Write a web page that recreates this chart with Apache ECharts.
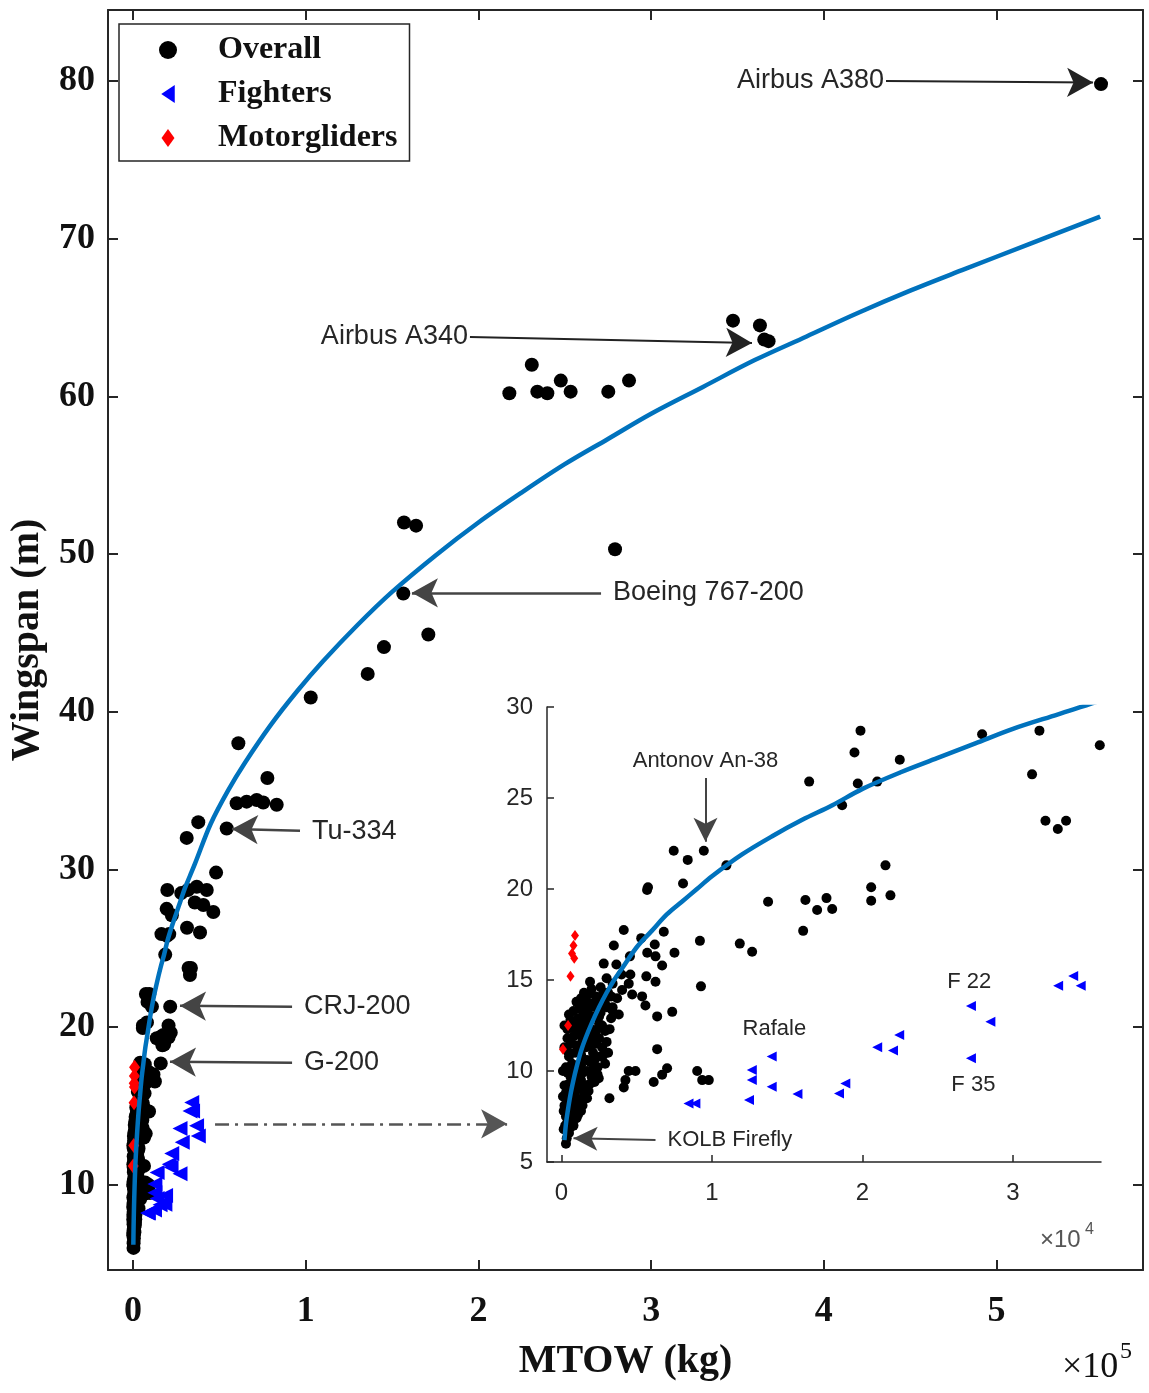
<!DOCTYPE html>
<html>
<head>
<meta charset="utf-8">
<title>Wingspan vs MTOW</title>
<script src="https://cdn.jsdelivr.net/npm/echarts@6/dist/echarts.min.js"></script>
<style>
  html, body { margin: 0; padding: 0; background: #fff; }
  #chart { width: 1149px; height: 1393px; }
</style>
</head>
<body>
<div id="chart"></div>
<script>
// values: [MTOW (kg), wingspan (m)]
const overall = [
  // large aircraft (only in the main plot)
  [560500, 79.8],
  [347400, 64.8], [363000, 64.5], [365500, 63.6], [368000, 63.5],
  [217900, 60.2], [230900, 62.0], [234100, 60.3], [239900, 60.2], [247700, 61.0],
  [253400, 60.3], [275200, 60.3], [287200, 61.0], [279100, 50.3],
  [156900, 52.0], [163900, 51.8], [156500, 47.5], [171000, 44.9], [145300, 44.1],
  [135900, 42.4], [102900, 40.9],
  [61000, 38.0], [77800, 35.8], [60000, 34.2], [65800, 34.3], [71600, 34.4],
  [75400, 34.25], [83200, 34.1],
  [37800, 33.0], [54250, 32.6], [31100, 32.0],
  [48100, 29.8], [42700, 28.7], [36900, 28.9], [40700, 27.75], [46500, 27.3], [38800, 26.0],
  // regional / commuter (also in the inset)
  [35770, 27.9], [31760, 28.7], [27950, 28.5], [22480, 27.1], [19870, 28.7], [19470, 27.5],
  [31270, 26.3], [32160, 23.75], [32980, 23.3], [33530, 23.75],
  [16460, 25.9], [19690, 25.8], [20980, 25.9], [18650, 24.6],
  [9460, 22.1], [7460, 22.1], [8390, 21.6], [10960, 21.3], [21530, 21.3], [8080, 20.3],
  [20580, 20.1], [5690, 19.95], [5750, 20.1],
  [13730, 19.3], [16210, 19.4], [17610, 19.5], [16990, 18.85], [17990, 18.9],
  [20580, 19.35], [21860, 19.65],
  [16060, 17.7], [9200, 17.15], [11850, 17.0], [12670, 16.55],
  [4140, 17.75], [5300, 17.3], [6800, 17.65], [3480, 16.9], [6200, 16.95], [5700, 16.5], [7510, 16.5],
  [2810, 15.9], [3650, 15.85], [4550, 16.3], [6250, 16.3], [6690, 15.8],
  [3000, 15.1], [3990, 15.3], [4580, 15.3], [5640, 15.2], [4470, 14.8], [6250, 14.9], [9270, 14.65],
  [1590, 13.6], [2260, 13.7], [2480, 14.0], [4030, 14.45], [4700, 14.2], [5360, 14.1],
  [5580, 13.6], [3370, 13.35], [3810, 13.1], [6360, 13.0], [7360, 13.25],
  [6360, 11.2], [4470, 10.0], [4920, 10.0], [4250, 9.5], [4140, 9.1], [7020, 10.15],
  [6690, 9.8], [6130, 9.4], [9020, 10.0], [9350, 9.5], [9790, 9.5], [3190, 8.5],
  [2480, 9.6], [2900, 10.4], [3100, 11.0],
  // light aircraft cluster
  [300, 6.0], [350, 6.3], [500, 6.6], [600, 6.9], [800, 7.0], [400, 7.2], [1000, 7.4],
  [150, 6.8], [250, 7.0], [650, 7.3], [850, 7.5], [150, 7.8], [450, 8.0], [1000, 8.2], [700, 8.2],
  [300, 7.5], [500, 7.7], [700, 7.9], [1100, 7.6], [1300, 7.8], [900, 8.0], [200, 8.1],
  [400, 8.3], [600, 8.5], [900, 8.6], [1200, 8.4], [1500, 8.7], [1800, 8.9], [300, 8.8], [1100, 9.0],
  [1400, 8.1], [1700, 8.5], [100, 8.6], [500, 8.9], [1400, 9.1], [700, 9.1], [1900, 9.3],
  [1100, 9.5], [2400, 9.8], [600, 9.7], [1400, 9.9], [2100, 10.1],
  [200, 9.2], [500, 9.3], [800, 9.4], [1300, 9.5], [1600, 9.2], [2000, 9.7], [2200, 9.4],
  [1000, 9.8], [400, 9.9], [1700, 10.0],
  [100, 10.0], [900, 10.1], [1300, 10.3], [1700, 10.6], [2200, 10.6], [2800, 10.9],
  [400, 11.1], [1100, 11.2], [1600, 11.3], [2000, 11.4], [2500, 11.8], [3000, 11.6], [400, 11.8], [1000, 12.1],
  [300, 10.2], [700, 10.4], [1100, 10.3], [1500, 10.6], [1900, 10.5], [2400, 10.2], [2600, 10.8],
  [500, 10.8], [900, 11.0], [1300, 10.9], [2100, 11.0],
  [200, 11.3], [600, 11.5], [1000, 11.4], [1400, 11.7], [1800, 11.6], [2300, 11.5], [2700, 11.3],
  [800, 11.9], [1200, 12.0], [1600, 12.1], [2100, 11.9],
  [1400, 12.2], [1900, 12.1], [2300, 12.2], [2700, 12.5], [3200, 12.3], [200, 12.5], [700, 12.4],
  [1000, 12.7], [1500, 12.6], [1900, 13.0], [2500, 13.0], [3300, 12.9], [500, 13.1],
  [400, 12.3], [900, 12.5], [1300, 12.4], [1700, 12.7], [2000, 12.3], [2500, 12.6], [2900, 12.2],
  [600, 12.8], [1100, 12.9], [1500, 13.0], [2200, 13.0],
  [800, 13.3], [1200, 13.5], [1800, 13.4], [2600, 13.2], [3000, 13.5], [1000, 13.8], [1600, 13.9],
  [2300, 13.8], [2800, 13.9],
  [1400, 13.3], [2000, 13.7], [2400, 13.4], [2900, 13.7], [3400, 13.5], [1300, 14.0], [1800, 14.2],
  [2300, 14.1], [2800, 14.3], [3300, 14.1], [3700, 14.0],
  [1500, 14.3], [2000, 14.5], [2600, 14.6], [3100, 14.3], [3400, 14.8], [1900, 14.9]
];

const fighters = [
  [8440, 8.22], [8900, 8.22], [12460, 8.4], [12650, 10.05], [12650, 9.5], [13970, 10.79],
  [13970, 9.14], [15680, 8.74], [18440, 8.77], [18860, 9.32], [20980, 11.3], [22030, 11.12],
  [22440, 11.98], [27210, 13.57], [28500, 12.7], [27210, 10.7], [33000, 14.69], [34000, 15.22],
  [34500, 14.69], [36800, 13.75], [37800, 13.1]
];

const motorgliders = [
  [900, 17.45], [800, 16.9], [700, 16.45], [850, 16.2], [600, 15.2], [440, 12.5], [100, 11.2]
];

// trend line
const fitCurve = [
  [200, 6.2], [300, 7.1], [400, 7.7], [600, 8.7], [800, 9.5], [1000, 10.2], [1300, 11.1],
  [1600, 11.8], [2000, 12.6], [2500, 13.5], [3000, 14.3], [3500, 15.0], [4000, 15.6],
  [5000, 16.8], [6000, 17.7], [7000, 18.6], [8000, 19.3], [9000, 20.0], [10000, 20.7],
  [12000, 21.9], [14000, 22.9], [16000, 23.8], [18000, 24.6], [20000, 25.5], [22500, 26.4],
  [25000, 27.2], [27500, 28.0], [30000, 28.8], [33000, 29.6], [36000, 30.4],
  [45000, 32.9], [55000, 35.0], [65000, 36.8], [80000, 39.2], [95000, 41.3], [110000, 43.2],
  [130000, 45.5], [150000, 47.6], [175000, 49.9], [200000, 52.0], [225000, 53.9],
  [250000, 55.7], [275000, 57.3], [300000, 58.9], [330000, 60.6], [360000, 62.3],
  [390000, 63.8], [420000, 65.3], [450000, 66.7], [480000, 68.0], [520000, 69.7], [560000, 71.4]
];

const mainXTicks = [0, 100000, 200000, 300000, 400000, 500000];
const mainYTicks = [10, 20, 30, 40, 50, 60, 70, 80];
const insetXTicks = [0, 10000, 20000, 30000];

const chart = echarts.init(document.getElementById('chart'));

const serif = '"Liberation Serif", "Times New Roman", serif';
const sans = '"Liberation Sans", Arial, sans-serif';
const ink = '#262626';
const blue = '#0072BD';

// one annotation arrow as a markLine item
function note(text, from, to, opts) {
  opts = opts || {};
  const color = opts.color || '#333';
  return [
    {
      coord: from,
      symbol: 'none',
      lineStyle: { color: color, width: opts.width || 2, type: opts.type || 'solid' },
      label: {
        show: !!text,
        position: 'start',
        distance: opts.distance == null ? 12 : opts.distance,
        formatter: text || '',
        fontFamily: sans,
        fontSize: opts.fontSize || 27,
        color: ink
      }
    },
    { coord: to, symbol: 'arrow', symbolSize: opts.head || [22, 26] }
  ];
}

const mainNotes = [
  note('Airbus A380', [436000, 80.0], [555900, 79.9], { distance: 2, color: '#222' }),
  note('Airbus A340', [195100, 63.77], [358400, 63.39], { distance: 2, color: '#222' }),
  note('Boeing 767-200', [271000, 47.54], [161500, 47.54], { color: '#444', width: 2.5 }),
  note('Tu-334', [96700, 32.45], [57300, 32.57], { color: '#444', width: 2.5 }),
  note('CRJ-200', [92100, 21.29], [27200, 21.35], { color: '#444', width: 2.5 }),
  note('G-200', [92100, 17.74], [21400, 17.8], { color: '#444', width: 2.5 }),
  note('', [47500, 13.87], [216600, 13.87], { color: '#555', width: 2.5, type: [14, 6, 3, 6] })
];

const insetNotes = [
  note('Antonov An-38', [9570, 26.1], [9570, 22.6], { fontSize: 22, distance: 6, color: '#444', head: [18, 24] }),
  note('KOLB Firefly', [6250, 6.21], [800, 6.3], { fontSize: 22, distance: 12, color: '#444', head: [18, 24] })
];

function tagLabel(text, coord) {
  return {
    coord: coord,
    symbolSize: 1,
    itemStyle: { color: 'rgba(0,0,0,0)' },
    label: { show: true, position: 'inside', formatter: text, fontFamily: sans, fontSize: 22, color: ink }
  };
}

function valueAxis(grid, position, min, max, ticks, showLabels, extra) {
  return Object.assign({
    gridIndex: grid,
    type: 'value',
    position: position,
    min: min,
    max: max,
    splitLine: { show: false },
    axisLine: { show: true, onZero: false, lineStyle: { color: ink, width: 2 } },
    axisTick: { show: true, inside: true, length: 10, customValues: ticks, lineStyle: { color: ink, width: 2 } },
    axisLabel: { show: showLabels, customValues: ticks }
  }, extra || {});
}

const mainLabel = { fontFamily: serif, fontWeight: 'bold', fontSize: 36, color: '#111' };
const insetLabel = { fontFamily: sans, fontSize: 24, color: ink };

const option = {
  animation: false,
  backgroundColor: '#fff',
  grid: [
    { left: 108, top: 10, width: 1035, height: 1260, containLabel: false, outerBoundsMode: 'none' },
    { left: 547, top: 707, width: 554, height: 455, containLabel: false, outerBoundsMode: 'none' }
  ],
  legend: {
    data: [
      { name: 'Overall', icon: 'circle' },
      { name: 'Fighters', icon: 'path://M0,0.5 L0.75,0 L0.75,1 Z' },
      { name: 'Motorgliders', icon: 'path://M0.36,0 L0.72,0.5 L0.36,1 L0,0.5 Z' }
    ],
    orient: 'vertical',
    left: 119,
    top: 24,
    padding: [9, 12, 6, 40],
    itemGap: 10,
    itemWidth: 18,
    itemHeight: 18,
    backgroundColor: '#fff',
    borderColor: ink,
    borderWidth: 1.5,
    borderRadius: 0,
    selectedMode: false,
    textStyle: {
      fontFamily: serif, fontWeight: 'bold', fontSize: 32, color: '#111',
      lineHeight: 34, padding: [0, 0, 0, 36]
    }
  },
  xAxis: [
    valueAxis(0, 'bottom', -14480, 584800, mainXTicks, true, {
      axisLabel: Object.assign({ customValues: mainXTicks, margin: 24, formatter: v => String(Math.round(v / 1e5)) }, mainLabel),
      name: 'MTOW (kg)',
      nameLocation: 'middle',
      nameGap: 72,
      nameTextStyle: { fontFamily: serif, fontWeight: 'bold', fontSize: 40, color: '#111' }
    }),
    valueAxis(0, 'top', -14480, 584800, mainXTicks, false),
    valueAxis(1, 'bottom', -960, 35850, insetXTicks, true, {
      axisLine: { show: true, onZero: false, lineStyle: { color: ink, width: 1.5 } },
      axisTick: { show: true, inside: true, length: 7, customValues: insetXTicks, lineStyle: { color: ink, width: 1.5 } },
      axisLabel: Object.assign({ customValues: insetXTicks, margin: 19, formatter: v => String(Math.round(v / 1e4)) }, insetLabel)
    })
  ],
  yAxis: [
    valueAxis(0, 'left', 4.6, 84.5, mainYTicks, true, {
      axisLabel: Object.assign({ customValues: mainYTicks, margin: 13 }, mainLabel),
      name: 'Wingspan (m)',
      nameLocation: 'middle',
      nameGap: 60,
      nameTextStyle: { fontFamily: serif, fontWeight: 'bold', fontSize: 40, color: '#111' }
    }),
    valueAxis(0, 'right', 4.6, 84.5, mainYTicks, false),
    {
      gridIndex: 1,
      type: 'value',
      min: 5,
      max: 30,
      interval: 5,
      splitLine: { show: false },
      axisLine: { show: true, onZero: false, lineStyle: { color: ink, width: 1.5 } },
      axisTick: { show: true, inside: true, length: 7, lineStyle: { color: ink, width: 1.5 } },
      axisLabel: Object.assign({ margin: 14 }, insetLabel)
    }
  ],
  series: [
    // main plot
    { name: 'Overall', type: 'scatter', xAxisIndex: 0, yAxisIndex: 0, data: overall,
      symbol: 'circle', symbolSize: 14, itemStyle: { color: '#000', opacity: 1 } },
    { name: 'Fighters', type: 'scatter', xAxisIndex: 0, yAxisIndex: 0, data: fighters,
      symbol: 'triangle', symbolRotate: 90, symbolSize: 15, itemStyle: { color: '#0000ff', opacity: 1 } },
    { name: 'Motorgliders', type: 'scatter', xAxisIndex: 0, yAxisIndex: 0, data: motorgliders,
      symbol: 'diamond', symbolSize: [11, 15], itemStyle: { color: '#ff0000', opacity: 1 } },
    { name: 'fit', type: 'line', xAxisIndex: 0, yAxisIndex: 0, data: fitCurve,
      smooth: 0.35, showSymbol: false, symbol: 'none',
      lineStyle: { color: blue, width: 4.5 },
      markLine: { silent: true, animation: false, symbol: ['none', 'arrow'], data: mainNotes } },
    // inset
    { name: 'Overall', type: 'scatter', xAxisIndex: 2, yAxisIndex: 2, data: overall, clip: true,
      symbol: 'circle', symbolSize: 10, itemStyle: { color: '#000', opacity: 1 } },
    { name: 'Fighters', type: 'scatter', xAxisIndex: 2, yAxisIndex: 2, data: fighters, clip: true,
      symbol: 'triangle', symbolRotate: 90, symbolSize: 10, itemStyle: { color: '#0000ff', opacity: 1 },
      markPoint: {
        silent: true,
        animation: false,
        data: [
          tagLabel('Rafale', [14150, 12.3]),
          tagLabel('F 22', [27100, 14.84]),
          tagLabel('F 35', [27370, 9.23])
        ]
      } },
    { name: 'Motorgliders', type: 'scatter', xAxisIndex: 2, yAxisIndex: 2, data: motorgliders, clip: true,
      symbol: 'diamond', symbolSize: [8, 11], itemStyle: { color: '#ff0000', opacity: 1 } },
    { name: 'fit', type: 'line', xAxisIndex: 2, yAxisIndex: 2, data: fitCurve, clip: true,
      smooth: 0.35, showSymbol: false, symbol: 'none',
      lineStyle: { color: blue, width: 4.5 },
      markLine: { silent: true, animation: false, symbol: ['none', 'arrow'], data: insetNotes } }
  ],
  graphic: [
    { type: 'text', left: 1062, top: 1350, style: { text: '×10', font: '36px ' + serif, fill: '#111' } },
    { type: 'text', left: 1120, top: 1340, style: { text: '5', font: '24px ' + serif, fill: '#111' } },
    { type: 'text', left: 1040, top: 1228, style: { text: '×10', font: '24px ' + sans, fill: '#555' } },
    { type: 'text', left: 1085, top: 1222, style: { text: '4', font: '16px ' + sans, fill: '#555' } }
  ]
};

chart.setOption(option);
window.addEventListener('resize', () => chart.resize());
</script>
</body>
</html>
